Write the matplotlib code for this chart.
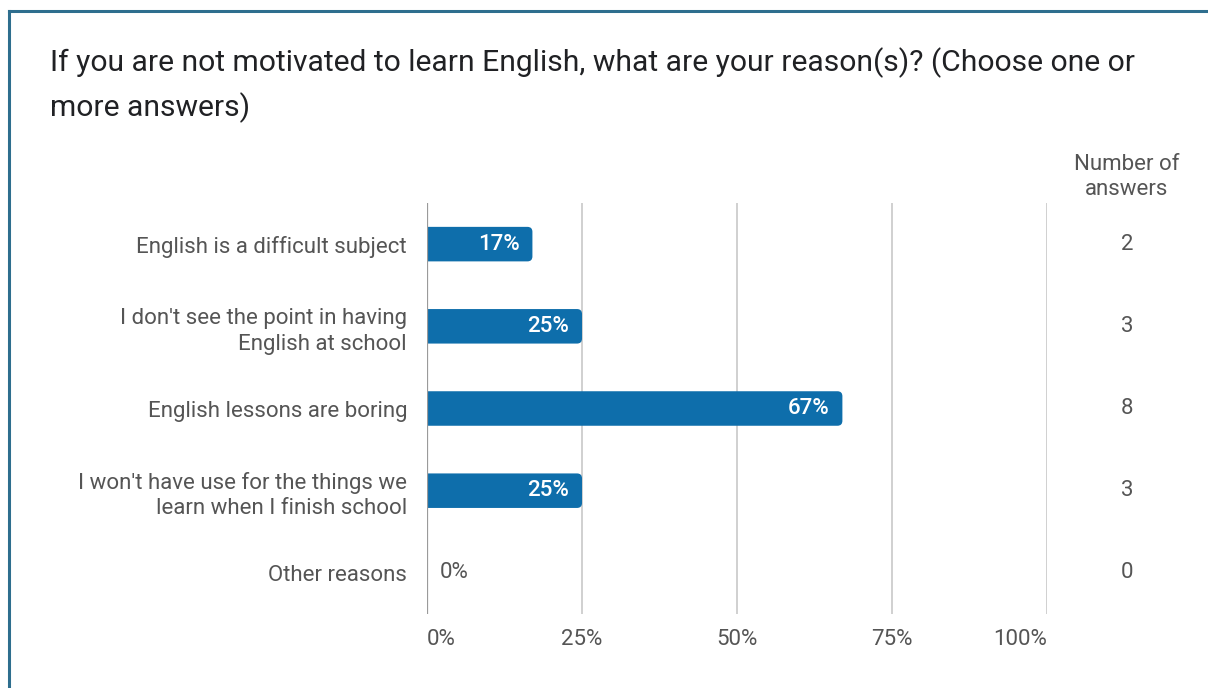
import matplotlib.pyplot as plt
from matplotlib.patches import FancyBboxPatch
from matplotlib.lines import Line2D
from matplotlib.transforms import blended_transform_factory

plt.rcParams['font.family'] = ['Roboto', 'DejaVu Sans']

title = ("If you are not motivated to learn English, what are your reason(s)? (Choose one or\n"
         "more answers)")
reasons = [
    "English is a difficult subject",
    "I don't see the point in having\nEnglish at school",
    "English lessons are boring",
    "I won't have use for the things we\nlearn when I finish school",
    "Other reasons",
]
percent = [17, 25, 67, 25, 0]
answers = [2, 3, 8, 3, 0]
xticks = [0, 25, 50, 75, 100]

bar_color = '#0e6eab'
text_gray = '#555555'
fs = 16

fig = plt.figure(figsize=(12.08, 6.88), dpi=100)
ax = fig.add_axes([0.3535, 0.1076, 0.5132, 0.5973])
ax.set_xlim(0, 100)
ax.set_ylim(len(reasons) - 0.5, -0.5)

# gridlines and zero line
for t in xticks[1:]:
    ax.axvline(t, color='#c8c8c8', lw=1.2, zorder=1)
ax.axvline(0, color='#9a9a9a', lw=1.6, zorder=4)

# bars: square on the axis side, rounded at the end
px_x = 620 / 100.0   # pixels per x unit
px_y = 82.2          # pixels per y unit
r = 5 / px_x
h = 0.42
for i, v in enumerate(percent):
    if v > 0:
        box = FancyBboxPatch((-3, i - h / 2), v + 3, h,
                             boxstyle=f"round,pad=0,rounding_size={r}",
                             mutation_aspect=px_x / px_y,
                             fc=bar_color, ec='none', zorder=3)
        box.set_clip_path(ax.patch)
        ax.add_patch(box)
        ax.text(v - 13 / px_x, i, f"{v}%", color='white', fontsize=fs,
                fontweight='medium', ha='right', va='center', zorder=5)
    else:
        ax.text(13 / px_x, i, f"{v}%", color=text_gray, fontsize=fs,
                ha='left', va='center', zorder=5)

for s in ax.spines.values():
    s.set_visible(False)
ax.tick_params(length=0)
ax.set_yticks(range(len(reasons)))
ax.set_yticklabels(reasons, fontsize=fs, color=text_gray, linespacing=1.3)
ax.tick_params(axis='y', pad=14.4)
ax.set_xticks(xticks)
ax.set_xticklabels([f"{t}%" for t in xticks], fontsize=fs, color=text_gray)
ax.tick_params(axis='x', pad=11)
labels = ax.get_xticklabels()
labels[0].set_ha('left')
labels[-1].set_ha('right')

# answer counts column
col_x = 1127 / 1208
fig.text(col_x, 1 - 177 / 688, "Number of\nanswers", ha='center', va='center',
         fontsize=fs, color=text_gray, linespacing=1.3)
col_tr = blended_transform_factory(fig.transFigure, ax.transData)
for i, n in enumerate(answers):
    ax.text(col_x, i, str(n), transform=col_tr,
            ha='center', va='center', fontsize=fs, color=text_gray)

fig.text(50 / 1208, 1 - 85 / 688, title, ha='left', va='center', fontsize=21.6,
         color='#202124', linespacing=1.58)

# card border
border = '#2e6e8e'
fig.add_artist(Line2D([9 / 1208, 1], [1 - 11 / 688] * 2, color=border, lw=2.2,
                      transform=fig.transFigure))
fig.add_artist(Line2D([9 / 1208] * 2, [0, 1 - 11 / 688], color=border, lw=2.2,
                      transform=fig.transFigure))

fig.savefig('out.png', dpi=100)
